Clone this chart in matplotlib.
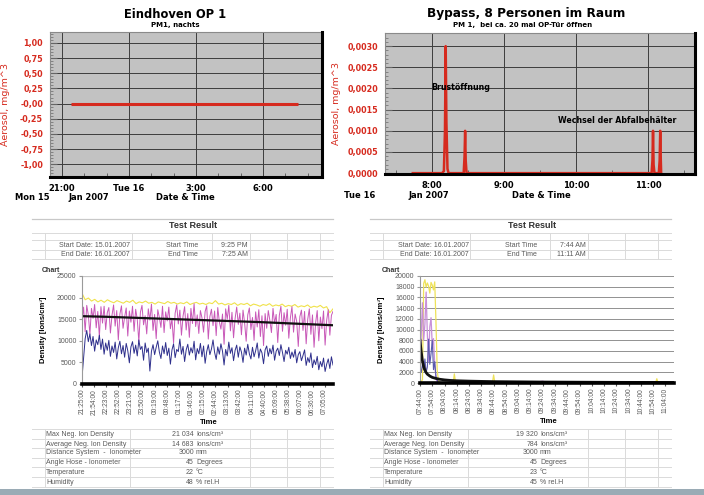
import numpy as np
import matplotlib
matplotlib.use("Agg")
import matplotlib.pyplot as plt
from matplotlib.lines import Line2D
from matplotlib.patches import Rectangle
from matplotlib.ticker import MultipleLocator

# ---------------- DATA ----------------
# top-left: Eindhoven OP 1 (hours relative to midnight 16 Jan)
tl_hours = [-2.583, -2, -1, 0, 1, 2, 3, 4, 5, 6, 7, 7.567]
tl_values = [0, 0, 0, 0, 0, 0, 0, 0, 0, 0, 0, 0]
tl_yticks = [1.0, 0.75, 0.5, 0.25, 0.0, -0.25, -0.5, -0.75, -1.0]
tl_ytick_labels = ["1,00", "0,75", "0,50", "0,25", "-0,00", "-0,25", "-0,50", "-0,75", "-1,00"]
tl_xticks = [-3, 0, 3, 6]
tl_xtick_labels = ["21:00", "Tue 16", "3:00", "6:00"]

# top-right: Bypass (hours of day)
tr_hours = [7.733, 8.14, 8.165, 8.18, 8.19, 8.20, 8.215, 8.23,
            8.44, 8.452, 8.46, 8.468, 8.48,
            11.05, 11.062, 11.07, 11.078, 11.09,
            11.15, 11.162, 11.17, 11.178, 11.183]
tr_values = [0, 0, 0.00005, 0.0010, 0.0030, 0.0012, 0.0001, 0,
             0, 0.0004, 0.0010, 0.0003, 0,
             0, 0.0003, 0.0010, 0.0002, 0,
             0, 0.0003, 0.0010, 0.0003, 0]
tr_yticks = [0.0030, 0.0025, 0.0020, 0.0015, 0.0010, 0.0005, 0.0]
tr_ytick_labels = ["0,0030", "0,0025", "0,0020", "0,0015", "0,0010", "0,0005", "0,0000"]
tr_xticks = [8, 9, 10, 11]
tr_xtick_labels = ["8:00", "9:00", "10:00", "11:00"]

# bottom-left: ion density, thousands of ions/cm3, 21:25 -> 07:25 (600 min)
bl_pink = [14.5, 17.8, 12.1, 18.2, 16.0, 11.5, 17.5, 15.2, 18.4, 13.0,
           16.8, 10.9, 17.9, 14.1, 18.0, 12.6, 16.5, 17.7, 11.8, 15.9,
           18.3, 13.4, 17.0, 10.2, 16.2, 18.1, 12.9, 15.5, 17.6, 11.1,
           16.9, 14.3, 18.0, 12.2, 17.3, 15.0, 9.8, 16.6, 18.2, 13.7,
           15.8, 11.6, 17.4, 14.8, 18.5, 12.4, 16.1, 10.5, 17.2, 15.4,
           13.1, 18.0, 11.9, 16.7, 14.6, 17.8, 12.8, 15.1, 9.5, 16.4,
           18.3, 13.9, 17.1, 11.3, 15.7, 17.9, 12.5, 16.3, 10.8, 17.5,
           14.0, 18.6, 13.3, 16.0, 11.7, 17.0, 15.3, 12.0, 16.8, 18.1,
           10.4, 15.6, 17.3, 13.5, 16.9, 11.2, 17.7, 14.4, 12.7, 16.2,
           9.2, 17.4, 15.0, 18.2, 12.3, 16.6, 10.7, 15.2, 17.8, 13.8,
           16.4, 11.4, 17.1, 14.2, 9.9, 16.0, 17.6, 12.6, 15.4, 10.1,
           16.7, 13.2, 17.2, 11.0, 15.8, 8.9, 16.3, 12.9, 17.0, 14.7,
           11.9, 17.5, 14.0, 16.1, 9.6, 15.9, 18.0, 12.2, 16.5, 13.6,
           17.3, 10.6, 15.3, 17.9, 12.0, 16.2, 14.5, 8.7, 15.6, 17.1,
           12.4, 16.8, 9.3, 15.0, 17.4, 11.5, 16.0, 8.5, 14.2, 17.0,
           10.0, 15.5, 12.8, 16.9, 9.0, 14.8, 17.2, 11.3, 15.9, 16.8]
bl_blue = [1.5, 6.0, 10.5, 12.4, 9.8, 11.6, 8.9, 11.0, 7.6, 10.2,
           9.1, 11.3, 8.0, 10.4, 6.9, 9.5, 7.8, 10.1, 6.4, 8.8,
           7.3, 9.7, 5.8, 8.4, 9.9, 7.0, 8.9, 6.2, 9.4, 7.7,
           4.9, 8.6, 9.8, 7.1, 9.0, 6.5, 10.2, 8.0, 8.7, 5.5,
           9.5, 7.3, 8.3, 3.0, 7.6, 9.1, 6.8, 8.5, 10.0, 7.4,
           5.9, 8.8, 7.0, 9.6, 6.6, 8.3, 4.6, 7.9, 9.3, 6.1,
           8.0, 7.5, 10.4, 6.9, 8.7, 5.2, 7.9, 9.2, 6.7, 8.4,
           7.2, 9.9, 5.6, 8.2, 7.0, 9.4, 6.3, 8.8, 4.8, 7.5,
           9.1, 6.8, 8.1, 10.2, 7.3, 5.7, 8.6, 6.9, 9.3, 7.6,
           4.4, 8.0, 6.5, 9.7, 7.1, 8.4, 5.4, 7.8, 9.0, 6.2,
           8.6, 7.4, 5.0, 8.3, 6.7, 9.2, 7.0, 5.8, 8.5, 6.3,
           7.7, 9.5, 6.0, 8.1, 7.2, 4.7, 7.9, 8.8, 6.4, 8.2,
           7.0, 9.0, 5.5, 7.6, 8.3, 6.6, 9.1, 7.3, 5.2, 7.8,
           6.9, 8.5, 5.9, 7.4, 6.2, 8.0, 4.9, 6.8, 7.5, 5.4,
           6.6, 7.9, 4.3, 6.1, 5.0, 7.2, 3.8, 5.6, 4.5, 6.4,
           3.3, 5.2, 4.0, 6.0, 2.9, 4.6, 5.8, 3.6, 6.3, 4.4]
bl_yellow = [21.0, 19.5, 19.9, 19.2, 19.6, 19.0, 19.4, 18.9, 19.5, 19.1,
             18.8, 19.3, 19.0, 18.7, 19.2, 18.9, 19.4, 18.6, 19.0, 18.8,
             19.2, 18.7, 18.9, 18.5, 19.0, 18.8, 18.6, 19.1, 18.7, 18.9,
             18.5, 18.8, 18.6, 19.0, 18.4, 18.7, 18.9, 18.5, 18.7, 18.4,
             18.8, 18.6, 19.3, 18.5, 18.7, 18.3, 18.6, 18.4, 18.8, 18.2,
             18.6, 18.4, 18.7, 18.1, 18.5, 18.3, 18.0, 18.4, 18.2, 18.6,
             18.0, 18.3, 18.1, 18.5, 17.9, 18.2, 18.0, 18.4, 17.8, 18.1,
             17.9, 18.3, 17.7, 18.0, 17.8, 18.2, 17.6, 17.9, 16.5, 17.4]
bl_trend_t = [0, 60, 120, 180, 240, 300, 360, 420, 480, 540, 600]
bl_trend = [15.7, 15.55, 15.35, 15.15, 14.95, 14.75, 14.55, 14.35, 14.1, 13.85, 13.6]
bl_xticks = [0, 29, 58, 87, 116, 145, 174, 203, 232, 261, 290, 319, 348, 377,
             406, 435, 464, 493, 522, 551, 580]
bl_xtick_labels = ["21:25:00", "21:54:00", "22:23:00", "22:52:00", "23:21:00", "23:50:00",
                   "00:19:00", "00:48:00", "01:17:00", "01:46:00", "02:15:00", "02:44:00",
                   "03:13:00", "03:42:00", "04:11:00", "04:40:00", "05:09:00", "05:38:00",
                   "06:07:00", "06:36:00", "07:05:00"]

# bottom-right: ion density, 07:44 -> 11:11 (minutes from 07:44)
br_yel_t = [0, 2, 3, 4, 5, 6, 7, 8, 9, 10, 11, 12, 13, 14, 15, 17, 27, 28, 29, 59, 60, 61, 192, 193, 194, 207]
br_yel_v = [0, 600, 18600, 19300, 17900, 18700, 18100, 16800, 18800, 18300, 17400, 18900, 11500, 2500,
            400, 0, 0, 1700, 0, 0, 1500, 0, 0, 800, 0, 0]
br_pk_t = [0, 1, 2, 3, 4, 5, 6, 7, 8, 9, 10, 11, 12, 13, 14, 16, 60, 70, 80, 95, 100, 105, 207]
br_pk_v = [3000, 9000, 15000, 8000, 11000, 17000, 9000, 4000, 10500, 12200, 7000, 8300, 3500, 800,
           200, 0, 0, 200, 100, 150, 350, 0, 0]
br_bl_t = [0, 1, 2, 3, 4, 5, 6, 7, 8, 9, 10, 11, 12, 13, 15, 207]
br_bl_v = [3000, 2000, 3500, 2500, 4500, 2000, 3000, 8200, 3500, 5500, 8000, 2500, 4000, 1200, 0, 0]
br_bk_t = [0, 1, 2, 3, 4, 5, 6, 8, 10, 13, 16, 20, 25, 30, 40, 50, 60, 80, 100, 130, 160, 207]
br_bk_v = [8000, 5800, 4100, 3100, 2400, 1950, 1650, 1300, 1050, 850, 700, 580, 480, 420, 350, 300,
           260, 220, 180, 150, 120, 100]
br_xticks = [0, 10, 20, 30, 40, 50, 60, 70, 80, 90, 100, 110, 120, 130, 140, 150, 160, 170, 180, 190, 200]
br_xtick_labels = ["07:44:00", "07:54:00", "08:04:00", "08:14:00", "08:24:00", "08:34:00", "08:44:00",
                   "08:54:00", "09:04:00", "09:14:00", "09:24:00", "09:34:00", "09:44:00", "09:54:00",
                   "10:04:00", "10:14:00", "10:24:00", "10:34:00", "10:44:00", "10:54:00", "11:04:00"]

# tables
stat_labels = ["Max Neg. Ion Density", "Average Neg. Ion Density", "Distance System  -  Ionometer",
               "Angle Hose - Ionometer", "Temperature", "Humidity"]
stat_units = ["Ions/cm\u00b3", "Ions/cm\u00b3", "mm", "Degrees", "\u00b0C", "% rel.H"]
left_stat_values = ["21 034", "14 683", "3000", "45", "22", "48"]
right_stat_values = ["19 320", "784", "3000", "45", "23", "45"]
left_header = ["Start Date: 15.01.2007", "End Date: 16.01.2007", "Start Time", "End Time", "9:25 PM", "7:25 AM"]
right_header = ["Start Date: 16.01.2007", "End Date: 16.01.2007", "Start Time", "End Time", "7:44 AM", "11:11 AM"]

# ---------------- LAYOUT ----------------
W, H = 704, 495
def fx(p): return p / W
def fy(p): return 1 - p / H
def rect(x0, y0, x1, y1): return [fx(x0), fy(y1), fx(x1) - fx(x0), fy(y0) - fy(y1)]

RED = "#d62a1e"
GRAYBG = "#c2c2c2"
TXT = "#5a5a5a"
LIB = "Liberation Sans"

plt.rcParams['font.family'] = ['DejaVu Sans']
fig = plt.figure(figsize=(7.04, 4.95), dpi=100)
fig.patch.set_facecolor("white")

def style_top(ax):
    ax.set_facecolor(GRAYBG)
    for s in ("left", "top"):
        ax.spines[s].set_color("#8a8a8a"); ax.spines[s].set_linewidth(0.8)
    for s in ("right", "bottom"):
        ax.spines[s].set_color("black"); ax.spines[s].set_linewidth(2.2)
        ax.spines[s].set_zorder(5)
    ax.grid(True, which='major', color='#3c3c3c', lw=0.7)
    ax.set_axisbelow(True)
    ax.tick_params(axis='y', which='major', direction='in', length=5, color='#666', pad=5)
    ax.tick_params(axis='y', which='minor', direction='in', length=2.5, color='#777')
    ax.tick_params(axis='x', which='major', direction='in', length=0, pad=5)
    ax.tick_params(axis='x', which='minor', direction='in', length=3, color='#555')

# top-left
ax1 = fig.add_axes(rect(50, 32, 322, 177))
style_top(ax1)
ax1.plot(tl_hours, tl_values, color=RED, lw=2.2, solid_capstyle='butt', zorder=3)
ax1.set_xlim(-3.54, 8.64); ax1.set_ylim(-1.21, 1.18)
ax1.set_yticks(tl_yticks)
ax1.set_yticklabels(tl_ytick_labels, color=RED, fontweight='bold', fontsize=5.8)
ax1.yaxis.set_minor_locator(MultipleLocator(0.05))
ax1.set_xticks(tl_xticks)
ax1.set_xticklabels(tl_xtick_labels, fontweight='bold', fontsize=6)
ax1.xaxis.set_minor_locator(MultipleLocator(1))
ax1.set_ylabel("Aerosol, mg/m^3", color=RED, fontsize=6.8)
ax1.yaxis.set_label_coords(-0.147, 0.5)

fig.text(fx(175), fy(14), "Eindhoven OP 1", ha='center', va='center', fontsize=8.3, fontweight='bold')
fig.text(fx(175), fy(25), "PM1, nachts", ha='center', va='center', fontsize=5, fontweight='bold')
fig.text(fx(32), fy(197), "Mon 15", ha='center', va='center', fontsize=6, fontweight='bold')
fig.text(fx(89), fy(197), "Jan 2007", ha='center', va='center', fontsize=6, fontweight='bold')
fig.text(fx(185), fy(197), "Date & Time", ha='center', va='center', fontsize=6, fontweight='bold')

# top-right
ax2 = fig.add_axes(rect(385, 33, 695, 174))
style_top(ax2)
ax2.plot(tr_hours, tr_values, color=RED, lw=1.8, zorder=3)
ax2.set_xlim(7.347, 11.653); ax2.set_ylim(-0.00002, 0.00331)
ax2.set_yticks(tr_yticks)
ax2.set_yticklabels(tr_ytick_labels, color=RED, fontweight='bold', fontsize=5.8)
ax2.yaxis.set_minor_locator(MultipleLocator(0.0001))
ax2.set_xticks(tr_xticks)
ax2.set_xticklabels(tr_xtick_labels, fontweight='bold', fontsize=6)
ax2.xaxis.set_minor_locator(MultipleLocator(0.5))
ax2.set_ylabel("Aerosol, mg/m^3", color=RED, fontsize=6.8)
ax2.yaxis.set_label_coords(-0.142, 0.5)
ax2.text(8.40, 0.00203, "Brust\u00f6ffnung", ha='center', va='center', fontsize=5.7, fontweight='bold', zorder=4)
ax2.text(10.57, 0.00125, "Wechsel der Abfalbeh\u00e4lter", ha='center', va='center', fontsize=5.7,
         fontweight='bold', zorder=4)

fig.text(fx(526), fy(14), "Bypass, 8 Personen im Raum", ha='center', va='center', fontsize=8.7, fontweight='bold')
fig.text(fx(523), fy(25), "PM 1,  bei ca. 20 mal OP-T\u00fcr \u00f6ffnen", ha='center', va='center',
         fontsize=5, fontweight='bold')
fig.text(fx(360), fy(196), "Tue 16", ha='center', va='center', fontsize=6, fontweight='bold')
fig.text(fx(429), fy(196), "Jan 2007", ha='center', va='center', fontsize=6, fontweight='bold')
fig.text(fx(541), fy(196), "Date & Time", ha='center', va='center', fontsize=6, fontweight='bold')

# bottom charts
def style_bottom(ax):
    ax.set_facecolor("white")
    ax.spines['top'].set_visible(False); ax.spines['right'].set_visible(False)
    ax.spines['left'].set_color('#9a9a9a'); ax.spines['left'].set_linewidth(0.8)
    ax.spines['bottom'].set_color('black'); ax.spines['bottom'].set_linewidth(2.6)
    ax.tick_params(axis='y', length=2, color='#9a9a9a', labelsize=5, labelcolor=TXT, pad=2)
    ax.tick_params(axis='x', length=2, color='#555', labelsize=4.8, labelcolor=TXT, pad=1.5)
    for lab in ax.get_yticklabels():
        lab.set_family(LIB)

ax3 = fig.add_axes(rect(82, 276, 333, 384))
t_pink = np.linspace(0, 600, len(bl_pink))
t_blue = np.linspace(0, 600, len(bl_blue))
t_yel = np.linspace(0, 600, len(bl_yellow))
ax3.axhline(25000, color='#c4c4c4', lw=0.9)
ax3.plot(t_yel, np.array(bl_yellow) * 1000, color='#f0e24a', lw=0.8)
ax3.plot(t_pink, np.array(bl_pink) * 1000, color='#c858b8', lw=0.7)
ax3.plot(t_blue, np.array(bl_blue) * 1000, color='#2e2f8c', lw=0.7)
ax3.plot(bl_trend_t, np.array(bl_trend) * 1000, color='#111111', lw=1.6)
ax3.set_xlim(0, 600); ax3.set_ylim(0, 25000)
ax3.set_yticks([0, 5000, 10000, 15000, 20000, 25000])
ax3.set_xticks(bl_xticks)
ax3.set_xticklabels(bl_xtick_labels, rotation=90, family=LIB)
style_bottom(ax3)
ax3.set_ylabel("Density [Ions/cm\u00b3]", family=LIB, fontsize=5.5, fontweight='bold')
ax3.yaxis.set_label_coords(-0.138, 0.5)
ax3.set_xlabel("Time", family=LIB, fontsize=5.5, fontweight='bold')
ax3.xaxis.set_label_coords(0.506, -0.324)

ax4 = fig.add_axes(rect(420, 276, 674, 383))
ax4.set_xlim(0, 207); ax4.set_ylim(0, 20000)
ax4.set_yticks(list(range(0, 20001, 2000)))
ax4.grid(True, axis='y', color='#808080', lw=0.6)
ax4.set_axisbelow(True)
ax4.plot(br_yel_t, br_yel_v, color='#eee25a', lw=0.9)
ax4.plot(br_pk_t, br_pk_v, color='#c890d8', lw=0.9)
ax4.plot(br_bl_t, br_bl_v, color='#5a5aae', lw=0.8)
ax4.plot(br_bk_t, br_bk_v, color='#111111', lw=2.0)
ax4.set_xticks(br_xticks)
ax4.set_xticklabels(br_xtick_labels, rotation=90, family=LIB)
style_bottom(ax4)
ax4.set_ylabel("Density [Ions/cm\u00b3]", family=LIB, fontsize=5.5, fontweight='bold')
ax4.yaxis.set_label_coords(-0.137, 0.5)
ax4.set_xlabel("Time", family=LIB, fontsize=5.5, fontweight='bold')
ax4.xaxis.set_label_coords(0.506, -0.327)

# table grid lines
LINEC = '#dadada'
def hline(y, x0, x1, c=LINEC, lw=0.7):
    fig.add_artist(Line2D([fx(x0), fx(x1)], [fy(y), fy(y)], color=c, lw=lw))
def vline(x, y0, y1, c=LINEC, lw=0.7):
    fig.add_artist(Line2D([fx(x), fx(x)], [fy(y0), fy(y1)], color=c, lw=lw))

for dx in (0, 338):
    hline(219, 32 + dx, 333 + dx, c='#c8c8c8', lw=0.9)
    for y in (233, 240, 250, 259):
        hline(y, 32 + dx, 333 + dx)
    for x in (45, 132, 212, 250, 287, 320):
        vline(x + dx, 233, 259)
    for y in (429, 439, 448, 458, 467, 477, 487):
        hline(y, 32 + dx, 333 + dx)
    for x in (45, 130, 250, 287, 320):
        vline(x + dx, 429, 487)

# header texts
def header(cx_title, xr_date, xr_tlab, xr_tval, vals):
    fig.text(fx(cx_title), fy(226), "Test Result", ha='center', va='center', family=LIB,
             fontsize=6.5, fontweight='bold', color='#333')
    fig.text(fx(xr_date), fy(245), vals[0], ha='right', va='center', family=LIB, fontsize=5, color=TXT)
    fig.text(fx(xr_date), fy(254), vals[1], ha='right', va='center', family=LIB, fontsize=5, color=TXT)
    fig.text(fx(xr_tlab), fy(245), vals[2], ha='right', va='center', family=LIB, fontsize=5, color=TXT)
    fig.text(fx(xr_tlab), fy(254), vals[3], ha='right', va='center', family=LIB, fontsize=5, color=TXT)
    fig.text(fx(xr_tval), fy(245), vals[4], ha='right', va='center', family=LIB, fontsize=5, color=TXT)
    fig.text(fx(xr_tval), fy(254), vals[5], ha='right', va='center', family=LIB, fontsize=5, color=TXT)

header(193, 130, 198, 248, left_header)
header(532, 469, 537, 586, right_header)

fig.text(fx(42), fy(270), "Chart", ha='left', va='center', family=LIB, fontsize=5, fontweight='bold', color='#333')
fig.text(fx(382), fy(270), "Chart", ha='left', va='center', family=LIB, fontsize=5, fontweight='bold', color='#333')

rows_y = [434, 444, 453, 463, 472, 482]
for i, y in enumerate(rows_y):
    fig.text(fx(46), fy(y), stat_labels[i], ha='left', va='center', family=LIB, fontsize=5, color=TXT)
    fig.text(fx(194), fy(y), left_stat_values[i], ha='right', va='center', family=LIB, fontsize=5, color=TXT)
    fig.text(fx(196), fy(y), stat_units[i], ha='left', va='center', family=LIB, fontsize=5, color=TXT)
    fig.text(fx(384), fy(y), stat_labels[i], ha='left', va='center', family=LIB, fontsize=5, color=TXT)
    fig.text(fx(538), fy(y), right_stat_values[i], ha='right', va='center', family=LIB, fontsize=5, color=TXT)
    fig.text(fx(540), fy(y), stat_units[i], ha='left', va='center', family=LIB, fontsize=5, color=TXT)

# bottom band
fig.add_artist(Rectangle((0, 0), 1, fy(489), transform=fig.transFigure, color='#9aabb5', lw=0))

fig.savefig("out.png", dpi=100)
